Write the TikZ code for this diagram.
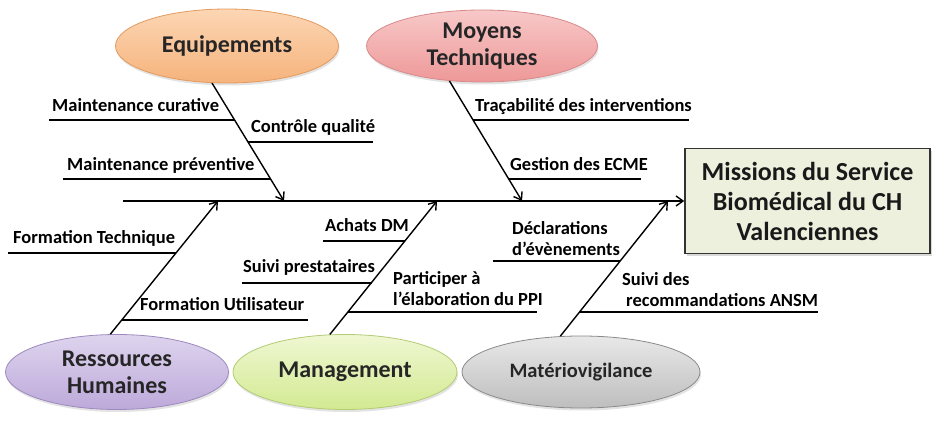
\documentclass[tikz,border=0pt]{standalone}
\usepackage{fontspec}
\setmainfont{Carlito}
\usepackage{xcolor}
\usetikzlibrary{arrows.meta, shapes.geometric, shadows}

\definecolor{eqtop}{HTML}{FCD6B4}
\definecolor{eqbot}{HTML}{F6B37C}
\definecolor{eqline}{HTML}{E39A5E}
\definecolor{mttop}{HTML}{F8C8C8}
\definecolor{mtbot}{HTML}{EE9898}
\definecolor{mtline}{HTML}{D88A8A}
\definecolor{rhtop}{HTML}{DED4EE}
\definecolor{rhbot}{HTML}{BDA9DA}
\definecolor{rhline}{HTML}{9C8ABD}
\definecolor{mgtop}{HTML}{EFF7D2}
\definecolor{mgbot}{HTML}{D3EA92}
\definecolor{mgline}{HTML}{B3CB74}
\definecolor{mvtop}{HTML}{E8E8E8}
\definecolor{mvbot}{HTML}{BEBEBE}
\definecolor{mvline}{HTML}{8A8A8A}
\definecolor{boxfill}{HTML}{EEF0DE}

\begin{document}
\begin{tikzpicture}[x=1pt, y=-1pt,
    cause/.style={ellipse, draw, line width=0.8pt, inner sep=0pt, align=center,
      font=\fontsize{24}{27}\selectfont\bfseries, text=black!85,
      drop shadow={opacity=0.22, shadow xshift=1pt, shadow yshift=-2.5pt}},
    effect/.style={rectangle, draw=black!80, line width=1.6pt, fill=boxfill,
      minimum width=245, minimum height=105, align=center,
      font=\fontsize{26}{30}\selectfont\bfseries, text=black!90,
      drop shadow={opacity=0.3, shadow xshift=2pt, shadow yshift=-2.5pt}},
    lbl/.style={anchor=base west, inner sep=0pt, align=left,
      font=\fontsize{18.5}{21}\selectfont\bfseries},
    bone/.style={line width=1.4pt, -{Straight Barb[length=7pt,width=10pt]}},
    rib/.style={line width=1.4pt}]
  \useasboundingbox (0,0) rectangle (942,427);

  % the five families
  \node[cause, top color=eqtop, bottom color=eqbot, draw=eqline,
        minimum width=223, minimum height=74] (equip) at (227,46) {Equipements};
  \node[cause, top color=mttop, bottom color=mtbot, draw=mtline,
        minimum width=231, minimum height=72] (moyens) at (482,46) {Moyens\\Techniques};
  \node[cause, top color=rhtop, bottom color=rhbot, draw=rhline,
        minimum width=223, minimum height=75] (rh) at (117,372) {Ressources\\Humaines};
  \node[cause, top color=mgtop, bottom color=mgbot, draw=mgline,
        minimum width=224, minimum height=75] (mgmt) at (345,372) {Management};
  \node[cause, top color=mvtop, bottom color=mvbot, draw=mvline,
        minimum width=238, minimum height=72, font=\fontsize{20.5}{24}\selectfont\bfseries]
        (mv) at (581,372) {Matériovigilance};

  % effect box and spine
  \node[effect] (mission) at (807.5,201) {Missions du Service\\Biomédical du CH\\Valenciennes};
  \coordinate (tail) at (123,201);
  \draw[bone] (tail) -- (mission.west);

  % bones onto the spine
  \foreach \c/\a/\x in {equip/248/284, moyens/227/522, rh/100/218, mgmt/112/437, mv/120/668} {
    \coordinate (j-\c) at (\x,201);
    \draw[bone] (\c.\a) -- (j-\c);
  }

  % sub-causes: name / text x / baseline / line y / line from / line to / text
  \foreach \n/\xt/\yb/\y/\xa/\xb/\t in {
      mc/52/112/120/49/235/{Maintenance curative},
      cq/251/133/142/248/373/{Contrôle qualité},
      mp/67/171/179/63/271/{Maintenance préventive},
      ti/475/112/120/473/689/{Traçabilité des interventions},
      ge/510/171/179/509/641/{Gestion des ECME},
      ft/13/244/253/8/176/{Formation Technique},
      fu/140/311/320/122/308/{Formation Utilisateur},
      ad/325/232/241/323/405/{Achats DM},
      sp/243/273/283/242/372/{Suivi prestataires},
      pp/393/306/312/348/537/{Participer à\\l’élaboration du PPI},
      de/512/256/261/493/620/{Déclarations\\d’évènements},
      sr/622/307/312/579/818/{Suivi des\\\hspace*{4pt}recommandations ANSM}} {
    \draw[rib] (\xa,\y) coordinate (\n-a) -- (\xb,\y) coordinate (\n-b);
    \node[lbl] (\n) at (\xt,\yb) {\t};
  }
\end{tikzpicture}
\end{document}
